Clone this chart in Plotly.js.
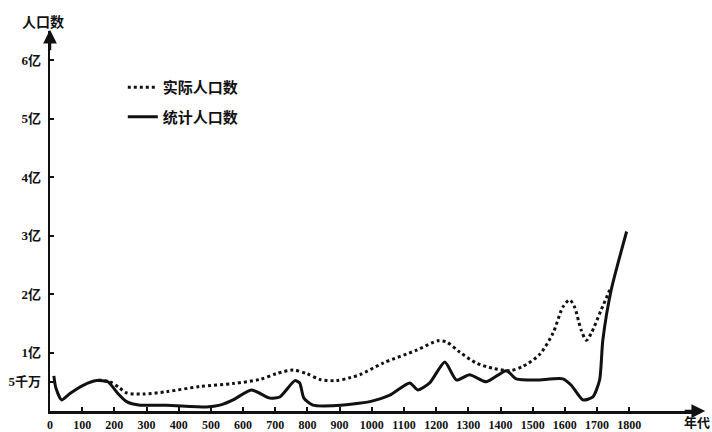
<!DOCTYPE html>
<html><head><meta charset="utf-8">
<script src="https://cdn.plot.ly/plotly-3.0.1.min.js"></script>
<style>html,body{margin:0;padding:0;background:#fff;}#chart{width:712px;height:432px;}</style>
</head><body><div id="chart"></div>
<script>
// values in 亿 (100 million people)
const statYears = [12, 18, 36, 62, 103, 145, 180, 211, 238, 280, 362, 487, 528, 569, 626, 683, 714, 761, 776, 789, 817, 879, 941, 994, 1056, 1118, 1143, 1180, 1227, 1263, 1304, 1356, 1418, 1449, 1511, 1594, 1620, 1656, 1687, 1708, 1718, 1744, 1792];
const statPop   = [0.60, 0.40, 0.19, 0.30, 0.44, 0.52, 0.50, 0.30, 0.16, 0.10, 0.10, 0.07, 0.10, 0.19, 0.36, 0.22, 0.24, 0.52, 0.48, 0.22, 0.10, 0.09, 0.12, 0.16, 0.27, 0.48, 0.36, 0.48, 0.84, 0.53, 0.62, 0.50, 0.69, 0.55, 0.53, 0.55, 0.44, 0.19, 0.24, 0.53, 1.21, 2.07, 3.07];
const realYears = [150, 186, 215, 238, 290, 362, 466, 569, 652, 704, 756, 797, 839, 890, 932, 963, 1035, 1139, 1205, 1232, 1273, 1325, 1377, 1429, 1469, 1522, 1563, 1594, 1615, 1630, 1651, 1667, 1682, 1713, 1742];
const realPop   = [0.53, 0.50, 0.40, 0.31, 0.29, 0.33, 0.42, 0.47, 0.54, 0.64, 0.70, 0.64, 0.54, 0.52, 0.57, 0.62, 0.82, 1.04, 1.20, 1.18, 1.01, 0.82, 0.73, 0.69, 0.76, 0.97, 1.33, 1.78, 1.90, 1.78, 1.38, 1.21, 1.33, 1.73, 2.10];
const xTickVals = [0,100,200,300,400,500,600,700,800,900,1000,1100,1200,1300,1400,1500,1600,1700,1800];
const xTickText = xTickVals.map(String);
const yTickVals = [0.5, 1, 2, 3, 4, 5, 6];
const yTickText = ['5千万', '1亿', '2亿', '3亿', '4亿', '5亿', '6亿'];
const seriesNames = ['实际人口数', '统计人口数'];
const yAxisTitle = '人口数';
const xAxisTitle = '年代';

const fontFam = 'Liberation Serif, Noto Sans CJK SC, serif';
const ink = '#111';

const traces = [
  {x: realYears, y: realPop, name: seriesNames[0], mode: 'lines', legendgroup: 'a',
   line: {color: ink, width: 3, dash: '3px,3px', shape: 'spline', smoothing: 0.8}},
  {x: statYears, y: statPop, name: seriesNames[1], mode: 'lines', legendgroup: 'b',
   line: {color: ink, width: 3, shape: 'spline', smoothing: 0.6}}
];

const layout = {
  width: 712, height: 432,
  margin: {l: 50, r: 12, t: 31, b: 21},
  paper_bgcolor: '#fff', plot_bgcolor: '#fff',
  font: {family: fontFam, color: ink, size: 13, weight: 'bold'},
  showlegend: true,
  legend: {x: 0.112, y: 0.895, xanchor: 'left', yanchor: 'top', bgcolor: 'rgba(0,0,0,0)',
           tracegroupgap: 7, font: {family: fontFam, size: 15, color: ink, weight: 'bold'}},
  xaxis: {range: [0, 2020], showgrid: false, zeroline: false, showline: true, linewidth: 2.5, linecolor: ink,
          ticks: 'inside', ticklen: 4, tickwidth: 2, tickcolor: ink, tickmode: 'array',
          tickvals: xTickVals, ticktext: xTickText, tickangle: 0, ticklabelstandoff: 1,
          tickfont: {family: fontFam, size: 12, color: ink, weight: 'bold'}},
  yaxis: {range: [0, 6.5], showgrid: false, zeroline: false, showline: true, linewidth: 2.5, linecolor: ink,
          ticks: 'inside', ticklen: 4, tickwidth: 2, tickcolor: ink, tickmode: 'array',
          tickvals: yTickVals, ticktext: yTickText, ticklabelstandoff: 4,
          tickfont: {family: fontFam, size: 13, color: ink, weight: 'bold'}},
  annotations: [
    {xref: 'paper', yref: 'paper', x: 0, y: 1.003, ax: 0, ay: 22,
     showarrow: true, arrowhead: 2, arrowsize: 1.1, arrowwidth: 2.5, arrowcolor: ink, text: ''},
    {xref: 'paper', yref: 'paper', x: 1.008, y: 0, ax: -22, ay: 0,
     showarrow: true, arrowhead: 2, arrowsize: 1.1, arrowwidth: 2.5, arrowcolor: ink, text: ''},
    {xref: 'paper', yref: 'paper', x: -0.011, y: 1.024, xanchor: 'center', yanchor: 'middle', showarrow: false,
     text: yAxisTitle, font: {family: fontFam, size: 14, color: ink, weight: 'bold'}},
    {xref: 'paper', yref: 'paper', x: 0.996, y: -0.03, xanchor: 'center', yanchor: 'middle', showarrow: false,
     text: xAxisTitle, font: {family: fontFam, size: 13, color: ink, weight: 'bold'}}
  ]
};

Plotly.newPlot('chart', traces, layout, {displayModeBar: false, staticPlot: true});
</script>
</body></html>
